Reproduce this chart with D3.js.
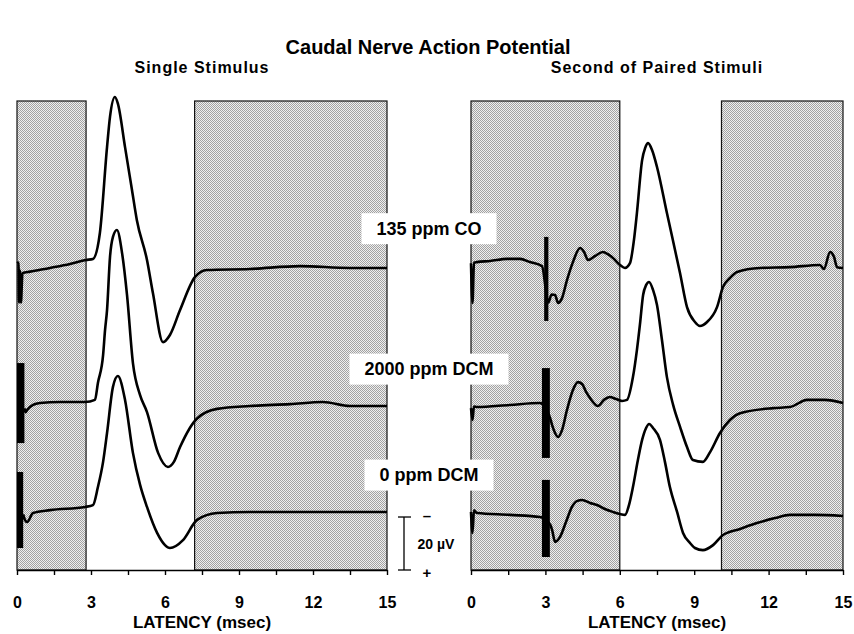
<!DOCTYPE html>
<html lang="en">
<head>
<meta charset="UTF-8">
<title>Caudal Nerve Action Potential</title>
<script src="https://d3js.org/d3.v7.min.js"></script>
<style>
  body { margin: 0; background: #fff; }
  svg { display: block; font-family: "Liberation Sans", Arial, Helvetica, sans-serif; }
</style>
</head>
<body>
<div id="chart"></div>
<script>
// latency ticks (msec), every 1.5 with labels at multiples of 3
const tickValues = [0, 1.5, 3, 4.5, 6, 7.5, 9, 10.5, 12, 13.5, 15];
const tickLabels = ["0", "3", "6", "9", "12", "15"];

const panelTitles = ["Single Stimulus", "Second of Paired Stimuli"];
const traceLabels = ["135 ppm CO", "2000 ppm DCM", "0 ppm DCM"];
// baseline of each trace in µV above the panel floor
const traceOffsets = [115, 62, 22];

// shaded (excluded) latency windows, msec
const singleShade = [[0, 2.8], [7.2, 15]];
const pairedShade = [[0, 6.0], [10.1, 15]];

// traces: [latency msec, amplitude µV relative to the trace baseline]
const singleCO = [[0, 0.8], [0.06, 1], [0.08, -14], [0.12, -2], [0.16, -14], [0.22, -3], [0.53, -2.4],
  [1.34, -1.0], [2.15, 0.5], [2.8, 2.0], [3.08, 2.4], [3.36, 12.2], [3.65, 44.6], [3.77, 56],
  [3.97, 63.5], [4.09, 61], [4.38, 44.6], [4.66, 28.5], [4.86, 17], [5.27, 2], [5.51, -10.5],
  [5.92, -29.0], [6.2, -26.3], [6.61, -16.9], [7.22, -4.4], [7.7, -1.8], [9.44, -1.4],
  [11.47, -0.3], [13.5, -1.0], [15, -1.0]];
const singleDCM2000 = [[0.3, -1], [0.35, -2.4], [0.41, -1.6], [0.65, 0.3], [0.93, 1.0], [1.74, 1.4],
  [2.76, 1.4], [3.16, 2.2], [3.28, 8.6], [3.49, 19.1], [3.57, 28.6], [3.65, 36.1], [3.77, 56.1],
  [3.89, 63.7], [4.05, 66.3], [4.26, 57.6], [4.46, 41.8], [4.7, 16.1], [4.99, 4.0], [5.27, -2.4],
  [5.72, -17.8], [6.12, -23.1], [6.36, -21.2], [6.61, -15.6], [7.3, -4.8], [8.11, -1.2],
  [9.44, -0.1], [11.07, 0.6], [12.4, 1.4], [13.5, -0.1], [15, -0.1]];
const singleDCM0 = [[0.25, -1], [0.32, -3.1], [0.41, -3.9], [0.65, -0.5], [1.34, 0.6], [2.76, 1.8],
  [3.08, 2.5], [3.28, 9.3], [3.49, 18.8], [3.65, 29.7], [3.89, 47.1], [4.09, 51.2], [4.38, 42.2],
  [4.7, 22.2], [4.99, 10.1], [5.27, 1.8], [5.68, -8.0], [6.0, -12.6], [6.2, -13.7], [6.73, -10.7],
  [7.3, -3.1], [8.11, -0.5], [9.44, -0.1], [15, -0.1]];

const pairedCO = [[0, 0.8], [0.06, -14.2], [0.12, 1.0], [0.24, 1.2], [0.77, 1.6], [1.45, 2.4],
  [1.98, 2.4], [2.38, 1.2], [2.86, -0.3], [3.12, -14], [3.25, -11], [3.39, -11.2], [3.51, -14.2],
  [3.67, -12.4], [3.87, -5.6], [4.11, 1.2], [4.4, 6.5], [4.56, 5.0], [4.72, 2.0], [5.0, 3.5],
  [5.32, 5.0], [5.52, 4.2], [5.73, 2.7], [6.01, 0.1], [6.21, -1.0], [6.41, 0.8], [6.57, 9.5],
  [6.69, 19.7], [6.9, 39.7], [7.02, 44.2], [7.14, 46.1], [7.3, 43.5], [7.5, 37.1], [7.9, 19.7],
  [8.43, -3.0], [8.71, -15.8], [9.03, -21.4], [9.23, -22.9], [9.52, -21.4], [9.92, -15.8],
  [10.16, -8.2], [10.44, -4.8], [10.73, -2.5], [11.65, -1.0], [12.86, -0.7], [14.07, 0.1],
  [14.23, -1.4], [14.48, 5.0], [14.64, 3.1], [14.76, -0.7], [15, -1.0]];
const pairedDCM2000 = [[0, -0.9], [0.06, -5.4], [0.12, -0.3], [0.24, -0.5], [1.57, 0.3], [2.78, 1.0],
  [3.2, -5], [3.27, -7.3], [3.39, -10.3], [3.51, -11.8], [3.67, -9.2], [3.87, -1.6], [4.11, 5.9],
  [4.31, 8.9], [4.48, 8.2], [4.64, 5.2], [4.8, 2.9], [5.12, -0.1], [5.36, 2.2], [5.6, 3.3],
  [5.85, 2.5], [6.09, 1.8], [6.29, 2.2], [6.53, 10.8], [6.69, 21.0], [6.81, 30.5], [6.94, 41.8],
  [7.06, 45.5], [7.18, 46.7], [7.34, 43.7], [7.5, 38.0], [7.7, 24.8], [7.9, 10.8], [8.15, 0.3],
  [8.43, -8.0], [8.71, -15.6], [8.95, -20.5], [9.35, -21.2], [9.64, -17.5], [10.04, -10.3],
  [10.44, -5.4], [10.85, -2.8], [12.18, -0.9], [12.86, -0.5], [13.55, 2.2], [14.27, 2.2], [15, 1.0]];
const pairedDCM0 = [[0, -0.1], [0.06, -8.0], [0.12, 0.5], [0.24, -0.5], [1.57, -1.2], [2.78, -2.0],
  [3.2, -5], [3.27, -6.9], [3.39, -11.4], [3.59, -9.5], [3.83, -3.9], [4.07, 1.8], [4.27, 4.0],
  [4.48, 4.4], [4.8, 3.3], [5.08, 2.5], [5.4, 1.0], [5.73, -0.1], [6.01, -0.9], [6.21, -1.2],
  [6.37, 2.5], [6.53, 9.3], [6.73, 19.5], [6.9, 27.1], [7.06, 31.6], [7.18, 33.1], [7.34, 31.6],
  [7.62, 27.1], [7.82, 18.8], [8.02, 9.3], [8.31, -0.1], [8.55, -8.0], [8.83, -11.8], [9.03, -13.7],
  [9.35, -14.5], [9.76, -12.6], [10.16, -8.8], [10.85, -6.5], [11.53, -4.3], [12.26, -2.4],
  [12.86, -1.2], [13.87, -1.2], [15, -1.6]];

// stimulus artifacts drawn as solid bars: [trace, t0, t1, top µV, bottom µV]
const singleArtifacts = [[1, 0, 0.3, 16.1, -14.1], [2, 0, 0.25, 15.0, -13.7]];
const pairedArtifacts = [[0, 2.95, 3.12, 10.7, -21], [1, 2.86, 3.18, 14.2, -19.7], [2, 2.86, 3.18, 12.0, -17.1]];

// calibration bar: 20 µV
const calibration = 20;

const width = 854, height = 634;
const svg = d3.select("#chart").append("svg")
  .attr("width", width).attr("height", height);

// halftone-like stipple for the shaded windows
const defs = svg.append("defs");
const pat = defs.append("pattern").attr("id", "dots")
  .attr("width", 2).attr("height", 2).attr("patternUnits", "userSpaceOnUse");
pat.append("rect").attr("width", 2).attr("height", 2).attr("fill", "#efefef");
pat.append("rect").attr("width", 1).attr("height", 1).attr("fill", "#a2a2a2");
pat.append("rect").attr("x", 1).attr("y", 1).attr("width", 1).attr("height", 1).attr("fill", "#a2a2a2");

const y = d3.scaleLinear().domain([0, 177]).range([570, 101]);

const panels = [
  { x: d3.scaleLinear().domain([0, 15]).range([17, 387]), shade: singleShade,
    traces: [singleCO, singleDCM2000, singleDCM0], artifacts: singleArtifacts, title: panelTitles[0] },
  { x: d3.scaleLinear().domain([0, 15]).range([471, 843]), shade: pairedShade,
    traces: [pairedCO, pairedDCM2000, pairedDCM0], artifacts: pairedArtifacts, title: panelTitles[1] }
];

svg.append("text")
  .attr("x", 428).attr("y", 54)
  .attr("text-anchor", "middle")
  .attr("font-size", 20).attr("font-weight", "bold")
  .text("Caudal Nerve Action Potential");

panels.forEach(p => {
  const g = svg.append("g");
  const [x0, x1] = p.x.range();

  g.append("text")
    .attr("x", (x0 + x1) / 2).attr("y", 73)
    .attr("text-anchor", "middle")
    .attr("font-size", 16).attr("font-weight", "bold")
    .attr("letter-spacing", 1)
    .text(p.title);

  // shaded windows
  g.selectAll("rect.shade").data(p.shade).enter().append("rect")
    .attr("class", "shade")
    .attr("x", d => p.x(d[0]))
    .attr("y", y(177))
    .attr("width", d => p.x(d[1]) - p.x(d[0]))
    .attr("height", y(0) - y(177))
    .attr("fill", "url(#dots)")
    .attr("stroke", "#111").attr("stroke-width", 1.2);

  // traces
  p.traces.forEach((tr, i) => {
    const line = d3.line()
      .x(d => p.x(d[0]))
      .y(d => y(traceOffsets[i] + d[1]))
      .curve(d3.curveMonotoneX);
    g.append("path")
      .datum(tr)
      .attr("d", line)
      .attr("fill", "none")
      .attr("stroke", "#000")
      .attr("stroke-width", 2.6)
      .attr("stroke-linejoin", "round");
  });

  g.selectAll("rect.artifact").data(p.artifacts).enter().append("rect")
    .attr("class", "artifact")
    .attr("x", d => p.x(d[1]))
    .attr("y", d => y(traceOffsets[d[0]] + d[3]))
    .attr("width", d => p.x(d[2]) - p.x(d[1]))
    .attr("height", d => y(traceOffsets[d[0]] + d[4]) - y(traceOffsets[d[0]] + d[3]))
    .attr("fill", "#000");

  // latency axis
  const axis = d3.axisBottom(p.x)
    .tickValues(tickValues)
    .tickSize(5).tickSizeOuter(0).tickPadding(22)
    .tickFormat(d => (d % 3 === 0 ? tickLabels[d / 3] : ""));
  const ax = g.append("g").attr("transform", `translate(0,${y(0)})`).call(axis);
  ax.select(".domain").attr("stroke", "#000").attr("stroke-width", 1.6);
  ax.selectAll(".tick line").attr("stroke", "#000").attr("stroke-width", 1.4);
  ax.selectAll(".tick text")
    .attr("font-family", "'Liberation Sans', Arial, sans-serif")
    .attr("font-size", 16).attr("font-weight", "bold").attr("fill", "#000");

  g.append("text")
    .attr("x", (x0 + x1) / 2).attr("y", 628)
    .attr("text-anchor", "middle")
    .attr("font-size", 17).attr("font-weight", "bold")
    .text("LATENCY (msec)");
});

// trace labels on white boxes between the panels
traceLabels.forEach((lab, i) => {
  const cy = y(traceOffsets[i] + 14);
  const g = svg.append("g");
  const rect = g.append("rect").attr("fill", "#fff");
  const t = g.append("text")
    .attr("x", 429).attr("y", cy + 6.5)
    .attr("text-anchor", "middle")
    .attr("font-size", 18).attr("font-weight", "bold")
    .text(lab);
  const w = t.node().getComputedTextLength();
  rect.attr("x", 429 - w / 2 - 15).attr("y", cy - 15)
    .attr("width", w + 30).attr("height", 31);
});

// calibration bar
const cal = svg.append("g");
const calTop = y(traceOffsets[2] - 2);
const calBot = y(traceOffsets[2] - 2 - calibration);
cal.append("line").attr("x1", 404).attr("x2", 404).attr("y1", calTop).attr("y2", calBot)
  .attr("stroke", "#000").attr("stroke-width", 1.3);
[calTop, calBot].forEach(v => {
  cal.append("line").attr("x1", 398).attr("x2", 411).attr("y1", v).attr("y2", v)
    .attr("stroke", "#000").attr("stroke-width", 1.3);
});
cal.append("text").attr("x", 427).attr("y", calTop + 4).attr("text-anchor", "middle")
  .attr("font-size", 15).attr("font-weight", "bold").text("–");
cal.append("text").attr("x", 427).attr("y", calBot + 8).attr("text-anchor", "middle")
  .attr("font-size", 15).attr("font-weight", "bold").text("+");
cal.append("text").attr("x", 436).attr("y", (calTop + calBot) / 2 + 5).attr("text-anchor", "middle")
  .attr("font-size", 14).attr("font-weight", "bold").text(calibration + " µV");
</script>
</body>
</html>
